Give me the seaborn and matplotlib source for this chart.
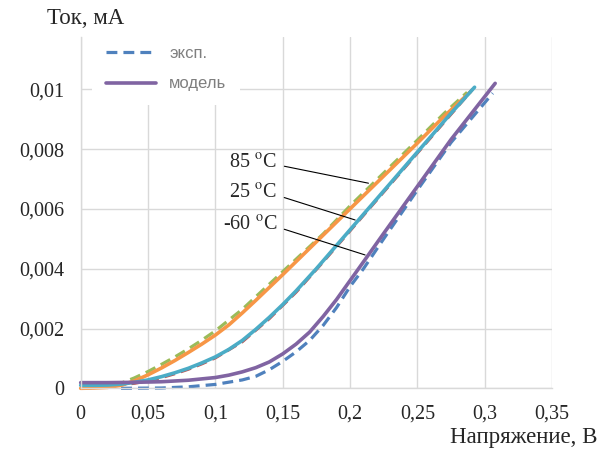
import numpy as np
import pandas as pd
import matplotlib
matplotlib.use('Agg')
import matplotlib.pyplot as plt
import seaborn as sns

# Данные: напряжение, В / ток, мА
x_85_exp = [0, 0.02, 0.03, 0.04, 0.05, 0.06, 0.07, 0.08, 0.09, 0.10, 0.12, 0.14, 0.16, 0.18, 0.20, 0.225, 0.25, 0.27, 0.287]
y_85_exp = [0, 0.00005, 0.00017, 0.00035, 0.00056, 0.0008, 0.00105, 0.00132, 0.00161, 0.00192, 0.00264, 0.00348, 0.00432, 0.00516, 0.0061, 0.0072, 0.0083, 0.0092, 0.0099]

x_85_mod = [0, 0.01, 0.02, 0.03, 0.04, 0.05, 0.06, 0.07, 0.08, 0.09, 0.10, 0.11, 0.12, 0.13, 0.14, 0.15, 0.175, 0.20, 0.225, 0.25, 0.27, 0.289]
y_85_mod = [0, 0.00001, 0.00003, 0.0001, 0.00025, 0.00045, 0.00068, 0.00093, 0.0012, 0.00148, 0.00178, 0.00212, 0.00252, 0.00294, 0.00337, 0.0038, 0.0049, 0.006, 0.0071, 0.0082, 0.0091, 0.0099]

x_25_exp = [0, 0.02, 0.03, 0.04, 0.05, 0.06, 0.07, 0.08, 0.09, 0.10, 0.12, 0.14, 0.16, 0.18, 0.20, 0.225, 0.25, 0.275, 0.291]
y_25_exp = [0.00008, 0.00009, 0.00012, 0.00017, 0.00025, 0.00036, 0.00049, 0.00064, 0.00082, 0.00102, 0.00156, 0.00233, 0.00322, 0.00423, 0.00527, 0.00657, 0.00787, 0.00917, 0.01]

x_25_mod = [0, 0.01, 0.02, 0.03, 0.04, 0.05, 0.06, 0.07, 0.08, 0.09, 0.10, 0.11, 0.12, 0.13, 0.14, 0.15, 0.16, 0.175, 0.20, 0.225, 0.25, 0.275, 0.2925]
y_25_mod = [0.0001, 0.0001, 0.00011, 0.00014, 0.0002, 0.00028, 0.00039, 0.00052, 0.00067, 0.00085, 0.00105, 0.0013, 0.0016, 0.00197, 0.00237, 0.0028, 0.00326, 0.004, 0.0053, 0.0066, 0.0079, 0.0092, 0.01007]

x_m60_exp = [0.03, 0.06, 0.08, 0.10, 0.12, 0.13, 0.14, 0.15, 0.16, 0.17, 0.18, 0.19, 0.20, 0.21, 0.225, 0.25, 0.275, 0.306]
y_m60_exp = [0, 0.00001, 0.00005, 0.00013, 0.00028, 0.0004, 0.00062, 0.0009, 0.00122, 0.0016, 0.0021, 0.0027, 0.0034, 0.0040, 0.00500, 0.00663, 0.00822, 0.00987]

x_m60_mod = [0, 0.02, 0.04, 0.06, 0.08, 0.10, 0.11, 0.12, 0.13, 0.14, 0.15, 0.16, 0.17, 0.18, 0.19, 0.20, 0.21, 0.225, 0.25, 0.275, 0.3078]
y_m60_mod = [0.00019, 0.00019, 0.0002, 0.00022, 0.00027, 0.00036, 0.00044, 0.00055, 0.00069, 0.00088, 0.00115, 0.00148, 0.00188, 0.0024, 0.00297, 0.0036, 0.00423, 0.00518, 0.00675, 0.00832, 0.0102]

x_ticks = [0, 0.05, 0.1, 0.15, 0.2, 0.25, 0.3, 0.35]
x_labels = ['0', '0,05', '0,1', '0,15', '0,2', '0,25', '0,3', '0,35']
y_ticks = [0, 0.002, 0.004, 0.006, 0.008, 0.01]
y_labels = ['0', '0,002', '0,004', '0,006', '0,008', '0,01']

sns.set_style('white')
plt.rcParams['font.family'] = ['Liberation Serif', 'DejaVu Serif']
plt.rcParams['mathtext.fontset'] = 'stix'

fig = plt.figure(figsize=(6.08, 4.5), dpi=100)
ax = fig.add_axes([0.1327, 0.1371, 0.7752, 0.7807])

grid_c = '#D9D9D9'
lw = 2.3
dash = (3.4, 1.9)

# эксперимент (пунктир)
sns.lineplot(x=x_85_exp, y=y_85_exp, color='#9BBB59', linewidth=lw, ax=ax, sort=False)
sns.lineplot(x=x_25_exp, y=y_25_exp, color='#C0504D', linewidth=lw, ax=ax, sort=False)
sns.lineplot(x=x_m60_exp, y=y_m60_exp, color='#4F81BD', linewidth=lw, ax=ax, sort=False, label='эксп.')
for ln in ax.lines:
    ln.set_dashes(dash)

# модель (сплошные)
sns.lineplot(x=x_85_mod, y=y_85_mod, color='#F79646', linewidth=lw + 0.3, ax=ax, sort=False)
sns.lineplot(x=x_25_mod, y=y_25_mod, color='#4BACC6', linewidth=lw + 0.3, ax=ax, sort=False)
sns.lineplot(x=x_m60_mod, y=y_m60_mod, color='#8064A2', linewidth=lw + 0.3, ax=ax, sort=False, label='модель')
for ln in ax.lines:
    ln.set_clip_on(False)

ax.set_xlim(0, 0.35)
ax.set_ylim(0, 0.01175)
ax.set_xticks(x_ticks)
ax.set_xticklabels(x_labels, fontsize=14.5)
ax.set_yticks(y_ticks)
ax.set_yticklabels(y_labels, fontsize=14.5)
ax.tick_params(axis='x', length=0, pad=12)
ax.tick_params(axis='y', length=6.5, color=grid_c, width=1, pad=5, direction='out')
ax.grid(True, color=grid_c, linewidth=1)
for s in ['top', 'right']:
    ax.spines[s].set_visible(False)
for s in ['left', 'bottom']:
    ax.spines[s].set_color(grid_c)
    ax.spines[s].set_linewidth(1)
ax.set_xlabel('')
ax.set_ylabel('')

# подписи температур
labels_t = ['85 $^{\\rm o}$C', '25 $^{\\rm o}$C', '-60 $^{\\rm o}$C']
text_y = [0.00754, 0.00652, 0.00546]
tip_x = [0.2137, 0.2038, 0.2112]
tip_y = [0.00686, 0.00563, 0.00446]
for t, ty, px, py in zip(labels_t, text_y, tip_x, tip_y):
    ax.annotate(t, xy=(px, py), xytext=(0.1458, ty), ha='right', va='center', fontsize=14.5,
                arrowprops=dict(arrowstyle='-', color='black', lw=0.8, shrinkA=3, shrinkB=0,
                                relpos=(1, 0.4)))

leg = ax.legend(loc='upper left', bbox_to_anchor=(84 / 608, 1 - 24 / 450), bbox_transform=fig.transFigure,
                frameon=True, fancybox=False, edgecolor='none', facecolor='white', framealpha=1,
                prop={'family': 'Liberation Sans', 'size': 12}, handlelength=3.0, handletextpad=0.8,
                labelspacing=0.95, borderpad=0.8)
for txt in leg.get_texts():
    txt.set_color('#7F7F7F')

fig.text(47 / 608, 1 - 19 / 450, 'Ток, мА', fontsize=16.5, ha='left', va='center')
fig.text(597 / 608, 1 - 438 / 450, 'Напряжение, В', fontsize=16.5, ha='right', va='center')

fig.savefig('out.png', dpi=100)
